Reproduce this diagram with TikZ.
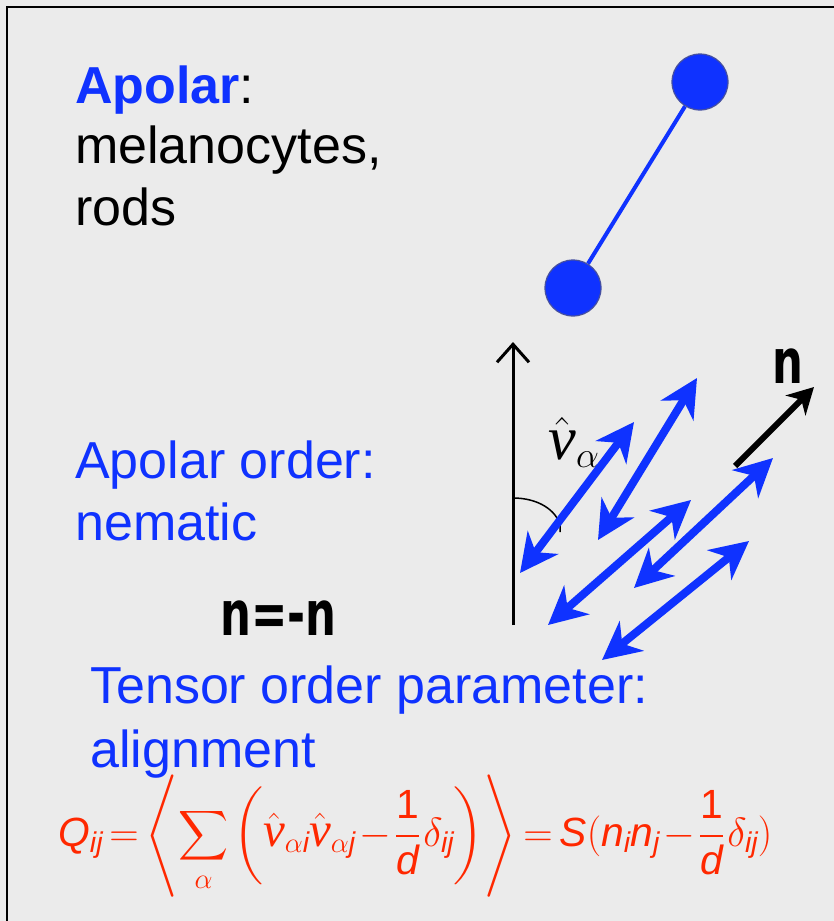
\RequirePackage{fix-cm}
\documentclass[tikz,border=0pt]{standalone}
\usepackage{amsmath}
\DeclareFontShape{OMX}{cmex}{m}{n}{<->cmex10}{}
\usepackage{fontspec}
\setmainfont{Liberation Sans}
\newfontfamily\handfont{DejaVu Sans}
\newfontfamily\timesfont{Liberation Serif}
\usepackage{graphicx}
\usepackage{tikz}
\usetikzlibrary{arrows.meta,positioning}

\definecolor{apblue}{RGB}{15,50,255}
\definecolor{eqred}{RGB}{255,40,0}
\definecolor{ballrim}{RGB}{70,80,160}
\definecolor{panel}{RGB}{235,235,235}

\newcommand{\vhat}{\hat{\text{\scalebox{1.2}{\timesfont\itshape v}}}}
\newcommand{\sumalpha}{\mathop{\vcenter{\hbox{\scalebox{0.85}{$\displaystyle\sum$}}}}\limits_{\alpha}}
\newcommand{\eqtight}{\thickmuskip=3mu \medmuskip=2mu \thinmuskip=2mu
  \nulldelimiterspace=0pt \scriptspace=0pt}

\begin{document}
\begin{tikzpicture}[x=1pt, y=-1pt,
    every node/.style={inner sep=0pt},
    bigtxt/.style={font=\fontsize{52}{62}\selectfont, anchor=base west},
    handtxt/.style={font=\handfont\bfseries\fontsize{62}{70}\selectfont},
    ball/.style={circle, minimum size=56pt, fill=apblue, draw=ballrim, line width=1.2pt},
    rod/.style={apblue, line width=4pt},
    director/.style={apblue, line width=8pt,
        arrows={Stealth[length=38pt,width=38pt,inset=12pt]-Stealth[length=38pt,width=38pt,inset=12pt]}}]

% Panel
\useasboundingbox (0,0) rectangle (834,921);
\clip (0,0) rectangle (834,921);
\fill[panel] (0,0) rectangle (834,921);
\draw[line width=2pt] (7,7) rectangle (860,950);

% Labels on the left
\node[bigtxt] (apolar) at (75,103) {\textbf{\color{apblue}Apolar}:};
\node[bigtxt] (cells) at (75,163) {melanocytes,};
\node[bigtxt] (rods) at (75,225) {rods};

\node[bigtxt, text=apblue] (order) at (75,478) {Apolar order:};
\node[bigtxt, text=apblue] (nematic) at (75,540) {nematic};

\node[handtxt, anchor=base west] (flip) at (220,635) {\scalebox{0.7}[1]{n=-n}};

\node[bigtxt, text=apblue] (tensor) at (90,703) {Tensor order parameter:};
\node[bigtxt, text=apblue] (align) at (90,767) {alignment};

% Dumbbell
\node[ball] (head) at (700,82) {};
\node[ball] (tail) at (573,288) {};
\draw[rod] (tail) -- (head);

% Reference axis and angle
\coordinate (axbot) at (513,625);
\coordinate (axtop) at (513,342);
\draw[line width=3pt, -{Straight Barb[length=18pt,width=32pt]}] (axbot) -- (axtop);
\draw[line width=1.5pt] (513,498) .. controls (538,498) and (556,510) .. (560,525) -- (560,532);
\node[font=\fontsize{52}{60}\selectfont] (vlab) at (574,442) {$\vhat_{\alpha}$};

% Rods as double arrows
\foreach \s/\e [count=\k] in {{520,573}/{634,422}, {598,540}/{697,378},
    {548,625}/{691,500}, {634,588}/{773,458}, {602,660}/{749,541}}{
  \coordinate (r\k a) at (\s);
  \coordinate (r\k b) at (\e);
  \draw[director] (r\k a) -- (r\k b);
}

% Director
\coordinate (nbase) at (735,466);
\coordinate (ntip) at (814,387);
\draw[line width=6pt, -{Stealth[length=26pt,width=28pt,inset=8pt]}] (nbase) -- (ntip);
\node[handtxt] (nlab) at (788,366) {\scalebox{0.7}[1]{n}};

% Order parameter
\node[text=eqred, anchor=base west] (qeq) at (58,846) {\resizebox{714pt}{!}{\fontsize{46}{52}\selectfont$\eqtight\displaystyle
  \mathit{Q}_{\mathit{ij}} = \left\langle \sumalpha\left(\vhat_{\alpha\mathit{i}}\vhat_{\alpha\mathit{j}}
  - \frac{\mathrm{1}}{\mathit{d}}\,\delta_{\mathit{ij}}\right)\right\rangle
  = \mathit{S}(\mathit{n}_{\mathit{i}}\mathit{n}_{\mathit{j}} - \frac{\mathrm{1}}{\mathit{d}}\,\delta_{\mathit{ij}})$}};

\end{tikzpicture}
\end{document}
